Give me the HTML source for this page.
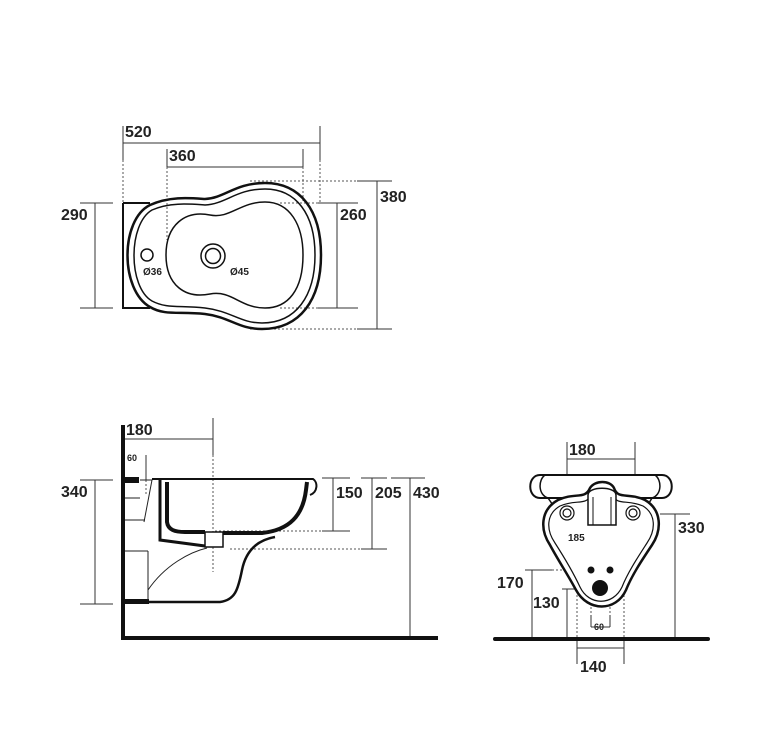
<!DOCTYPE html>
<html><head><meta charset="utf-8"><style>
html,body{margin:0;padding:0;background:#fff;}
svg{display:block;}
text{font-family:"Liberation Sans",Arial,sans-serif;font-weight:bold;fill:#222;}
</style></head><body>
<svg width="767" height="743" viewBox="0 0 767 743" xmlns="http://www.w3.org/2000/svg">
<g stroke="#333" stroke-width="1" fill="none">
<line x1="123" y1="126" x2="123" y2="160"/>
<line x1="123" y1="143" x2="320" y2="143"/>
<line x1="320" y1="126" x2="320" y2="160"/>
<line x1="167" y1="149" x2="167" y2="167"/>
<line x1="167" y1="167" x2="303" y2="167"/>
<line x1="303" y1="149" x2="303" y2="167"/>
<line x1="95" y1="203" x2="95" y2="308"/>
<line x1="80" y1="203" x2="113" y2="203"/>
<line x1="80" y1="308" x2="113" y2="308"/>
<line x1="337" y1="203" x2="337" y2="308"/>
<line x1="318" y1="203" x2="358" y2="203"/>
<line x1="318" y1="308" x2="358" y2="308"/>
<line x1="377" y1="181" x2="377" y2="329"/>
<line x1="357" y1="181" x2="392" y2="181"/>
<line x1="357" y1="329" x2="392" y2="329"/>
</g>
<g stroke="#555" stroke-width="1" stroke-dasharray="2,2" fill="none">
<line x1="123" y1="160" x2="123" y2="203"/>
<line x1="320" y1="160" x2="320" y2="203"/>
<line x1="167" y1="167" x2="167" y2="240"/>
<line x1="303" y1="167" x2="303" y2="203"/>
<line x1="250" y1="181" x2="357" y2="181"/>
<line x1="250" y1="329" x2="357" y2="329"/>
<line x1="280" y1="203" x2="318" y2="203"/>
<line x1="280" y1="308" x2="318" y2="308"/>
</g>
<path d="M123 203 H150 M123 203 V308 H150" stroke="#111" stroke-width="2" fill="none"/>
<path d="M150 205 C170 196 190 198 205 199 C225 198 235 183 265 183 C300 183 321 210 321 255 C321 300 300 329 262 329 C238 329 230 317 205 314 C180 311 165 316 150 307 C120 290 120 220 150 205 Z" stroke="#111" stroke-width="2.5" fill="none"/>
<path d="M152 210 C170 202 190 204 205 205 C226 204 236 189 265 189 C296 189 315 214 315 255 C315 296 296 323 262 323 C240 323 231 311 205 308 C180 305 167 309 152 301 C128 287 128 224 152 210 Z" stroke="#111" stroke-width="1.5" fill="none"/>
<path d="M166 255 C166 225 185 210 210 215 C230 219 240 202 265 202 C290 202 303 225 303 255 C303 290 288 308 265 308 C240 308 232 290 210 294 C185 299 166 285 166 255 Z" stroke="#111" stroke-width="1.5" fill="none"/>
<circle cx="147" cy="255" r="6" stroke="#111" stroke-width="1.5" fill="none"/>
<circle cx="213" cy="256" r="12" stroke="#111" stroke-width="1.5" fill="none"/>
<circle cx="213" cy="256" r="7.5" stroke="#111" stroke-width="1.5" fill="none"/>
<text x="143" y="275" font-size="10">Ø36</text>
<text x="230" y="275" font-size="10">Ø45</text>
<text x="125" y="137" font-size="16">520</text>
<text x="169" y="161" font-size="16">360</text>
<text x="61" y="220" font-size="16">290</text>
<text x="340" y="220" font-size="16">260</text>
<text x="380" y="202" font-size="16">380</text>

<g stroke="#333" stroke-width="1" fill="none">
<line x1="123" y1="439" x2="213" y2="439"/>
<line x1="213" y1="418" x2="213" y2="455"/>
<line x1="146" y1="455" x2="146" y2="480"/>
<line x1="95" y1="480" x2="95" y2="604"/>
<line x1="80" y1="480" x2="113" y2="480"/>
<line x1="80" y1="604" x2="113" y2="604"/>
<line x1="333" y1="478" x2="333" y2="531"/>
<line x1="322" y1="478" x2="350" y2="478"/>
<line x1="322" y1="531" x2="350" y2="531"/>
<line x1="372" y1="478" x2="372" y2="549"/>
<line x1="361" y1="478" x2="387" y2="478"/>
<line x1="361" y1="549" x2="387" y2="549"/>
<line x1="410" y1="478" x2="410" y2="638"/>
<line x1="391" y1="478" x2="425" y2="478"/>
</g>
<g stroke="#555" stroke-width="1" stroke-dasharray="2,2" fill="none">
<line x1="213" y1="455" x2="213" y2="572"/>
<line x1="146" y1="480" x2="146" y2="495"/>
<line x1="215" y1="531" x2="322" y2="531"/>
<line x1="230" y1="549" x2="361" y2="549"/>
</g>
<path d="M123 425 V638 H438" stroke="#111" stroke-width="4" fill="none"/>
<rect x="125" y="477" width="14" height="6" fill="#111"/>
<rect x="125" y="599" width="24" height="5" fill="#111"/>
<g stroke="#222" stroke-width="1" fill="none">
<line x1="125" y1="498" x2="140" y2="498"/>
<line x1="125" y1="520" x2="145" y2="520"/>
<line x1="125" y1="551" x2="148" y2="551"/>
<line x1="148" y1="551" x2="148" y2="600"/>
<path d="M140 480 H152 L144 522"/>
<path d="M148 590 C165 565 190 552 207 548"/>
</g>
<path d="M152 479 H313 C318 482 318 492 310 495" stroke="#111" stroke-width="2" fill="none"/>
<path d="M160 480 V540 L205 546" stroke="#111" stroke-width="3" fill="none"/>
<path d="M167 482 V522 C168 530 175 532 185 532 H205 M223 533 H262 C290 530 303 515 306 490 L307 482" stroke="#111" stroke-width="4" fill="none"/>
<rect x="205" y="532" width="18" height="15" stroke="#111" stroke-width="1.5" fill="#fff"/>
<path d="M148 602 H220 C235 600 238 590 242 570 C246 550 258 540 275 537" stroke="#111" stroke-width="2.5" fill="none"/>
<text x="126" y="435" font-size="16">180</text>
<text x="127" y="461" font-size="9">60</text>
<text x="61" y="497" font-size="16">340</text>
<text x="336" y="498" font-size="16">150</text>
<text x="375" y="498" font-size="16">205</text>
<text x="413" y="498" font-size="16">430</text>

<g stroke="#333" stroke-width="1" fill="none">
<line x1="567" y1="442" x2="567" y2="475"/>
<line x1="635" y1="442" x2="635" y2="475"/>
<line x1="567" y1="459" x2="635" y2="459"/>
<line x1="675" y1="514" x2="675" y2="639"/>
<line x1="660" y1="514" x2="690" y2="514"/>
<line x1="532" y1="570" x2="532" y2="639"/>
<line x1="525" y1="570" x2="552" y2="570"/>
<line x1="567" y1="589" x2="567" y2="639"/>
<line x1="562" y1="589" x2="575" y2="589"/>
<line x1="591" y1="615" x2="591" y2="627"/>
<line x1="610" y1="615" x2="610" y2="627"/>
<line x1="591" y1="627" x2="610" y2="627"/>
<line x1="577" y1="639" x2="577" y2="664"/>
<line x1="624" y1="639" x2="624" y2="664"/>
<line x1="577" y1="648" x2="624" y2="648"/>
</g>
<g stroke="#555" stroke-width="1" stroke-dasharray="2,2" fill="none">
<line x1="567" y1="475" x2="567" y2="498"/>
<line x1="635" y1="475" x2="635" y2="498"/>
<line x1="564" y1="531" x2="564" y2="544"/>
<line x1="637" y1="531" x2="637" y2="544"/>
<line x1="564" y1="544" x2="637" y2="544"/>
<line x1="552" y1="570" x2="592" y2="570"/>
<line x1="575" y1="589" x2="600" y2="589"/>
<line x1="577" y1="595" x2="577" y2="639"/>
<line x1="624" y1="595" x2="624" y2="639"/>
<line x1="591" y1="575" x2="591" y2="615"/>
<line x1="610" y1="575" x2="610" y2="615"/>
</g>
<path d="M495 639 H708" stroke="#111" stroke-width="4" stroke-linecap="round"/>
<path d="M540 475 H662 C675 475 675 498 662 498 H540 C527 498 527 475 540 475 Z" stroke="#111" stroke-width="2" fill="#fff"/>
<path d="M545 475 C538 480 538 495 548 498 M655 475 C662 480 662 495 652 498" stroke="#111" stroke-width="1.5" fill="none"/>
<path d="M548 498 L555 508 M652 498 L646 508" stroke="#111" stroke-width="1.5"/>
<path d="M558 500 C575 492 585 500 590 488 C595 480 610 480 614 488 C618 500 628 492 645 500 C662 510 662 530 652 545 C642 560 632 575 626 590 C616 612 588 612 576 590 C568 575 558 560 550 545 C540 530 540 510 558 500 Z" stroke="#111" stroke-width="2.5" fill="#fff"/>
<path d="M560 506 C576 499 586 506 591 495 C596 487 609 487 613 495 C617 506 627 499 643 506 C656 514 656 530 647 543 C638 557 628 572 622 587 C613 606 589 606 580 587 C573 572 564 557 555 543 C546 530 546 514 560 506 Z" stroke="#111" stroke-width="1.2" fill="none"/>
<path d="M588 525 V495 C588 486 616 486 616 495 V525 Z" stroke="#111" stroke-width="1.5" fill="#fff"/>
<path d="M593 525 V497 M611 525 V497" stroke="#111" stroke-width="1"/>
<circle cx="567" cy="513" r="7" stroke="#111" stroke-width="1.2" fill="none"/>
<circle cx="567" cy="513" r="4" stroke="#111" stroke-width="1.2" fill="none"/>
<circle cx="633" cy="513" r="7" stroke="#111" stroke-width="1.2" fill="none"/>
<circle cx="633" cy="513" r="4" stroke="#111" stroke-width="1.2" fill="none"/>
<circle cx="591" cy="570" r="3.5" fill="#111"/>
<circle cx="610" cy="570" r="3.5" fill="#111"/>
<circle cx="600" cy="588" r="8" fill="#111"/>
<text x="569" y="455" font-size="16">180</text>
<text x="678" y="533" font-size="16">330</text>
<text x="568" y="541" font-size="10">185</text>
<text x="497" y="588" font-size="16">170</text>
<text x="533" y="608" font-size="16">130</text>
<text x="594" y="630" font-size="9">60</text>
<text x="580" y="672" font-size="16">140</text>
</svg>
</body></html>
